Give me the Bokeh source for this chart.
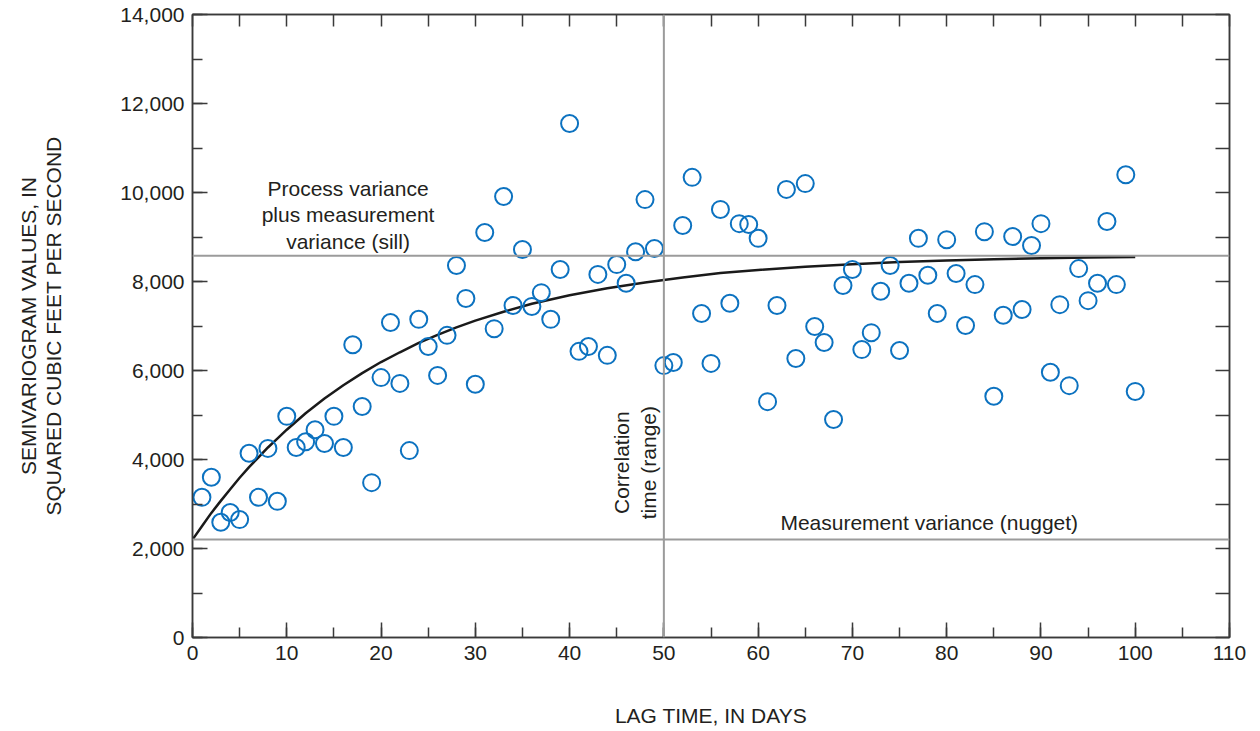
import numpy as np
from bokeh.plotting import figure
from bokeh.models import LinearAxis, Span, Range1d, FixedTicker, NumeralTickFormatter
from bokeh.core.properties import value
from bokeh.embed import file_html
from bokeh.resources import INLINE

# ---- data ----
lag_days = list(range(1, 101))
semivariogram = [
    3150, 3600, 2590, 2810, 2650, 4140, 3150, 4250, 3060, 4970,
    4270, 4400, 4670, 4360, 4970, 4270, 6580, 5190, 3480, 5840,
    7080, 5710, 4200, 7150, 6540, 5890, 6790, 8360, 7620, 5690,
    9100, 6940, 9910, 7460, 8720, 7440, 7750, 7150, 8270, 11550,
    6430, 6540, 8160, 6340, 8380, 7960, 8670, 9840, 8740, 6110,
    6180, 9260, 10340, 7280, 6160, 9620, 7510, 9300, 9280, 8970,
    5300, 7460, 10070, 6270, 10200, 6990, 6630, 4900, 7910, 8270,
    6470, 6850, 7780, 8360, 6450, 7960, 8970, 8140, 7280, 8940,
    8180, 7010, 7930, 9120, 5420, 7240, 9010, 7370, 8810, 9300,
    5960, 7480, 5660, 8290, 7570, 7960, 9350, 7930, 10400, 5530,
]
# fitted model curve, read at selected lags
curve_lag = [0, 1, 2, 3, 4, 5, 6, 7, 8, 9, 10, 12, 14, 16, 18, 20, 22, 24, 26, 28,
             30, 33, 36, 40, 44, 48, 52, 56, 60, 65, 70, 75, 80, 85, 90, 95, 100]
curve_val = [2200, 2500, 2800, 3070, 3330, 3590, 3830, 4050, 4270, 4470, 4670,
             5040, 5370, 5670, 5940, 6190, 6410, 6620, 6800, 6970,
             7120, 7320, 7500, 7690, 7850, 7980, 8090, 8190, 8260, 8330,
             8390, 8440, 8470, 8500, 8520, 8540, 8550]
sill_value = 8580
nugget_value = 2200
range_lag = 50

x_ticks = [0, 10, 20, 30, 40, 50, 60, 70, 80, 90, 100, 110]
y_ticks = [0, 2000, 4000, 6000, 8000, 10000, 12000, 14000]
x_minor = list(range(0, 111, 5))
y_minor = list(range(0, 14001, 1000))

FONT = "Liberation Sans"
TXT = "#231f20"
AX = "#3a3a3a"
FS = "21px"

p = figure(width=1260, height=731, output_backend="svg", toolbar_location=None,
           x_range=Range1d(0, 110), y_range=Range1d(0, 14000),
           x_axis_location=None, y_axis_location=None,
           min_border_left=192, min_border_right=31, min_border_top=14, min_border_bottom=94)
p.grid.visible = False
p.outline_line_color = AX
p.outline_line_width = 1.5
p.background_fill_color = "white"
p.border_fill_color = "white"

def make_axis(ticks, minors):
    ax = LinearAxis(ticker=FixedTicker(ticks=ticks, minor_ticks=minors))
    ax.axis_line_color = AX
    ax.axis_line_width = 1.5
    ax.major_tick_line_color = AX
    ax.minor_tick_line_color = AX
    ax.major_tick_line_width = 1.5
    ax.minor_tick_line_width = 1.5
    ax.major_tick_out = 0
    ax.minor_tick_out = 0
    ax.major_label_text_font = FONT
    ax.major_label_text_color = TXT
    ax.major_label_text_font_size = FS
    ax.axis_label_text_font = FONT
    ax.axis_label_text_color = TXT
    ax.axis_label_text_font_size = FS
    ax.axis_label_text_font_style = "normal"
    return ax

bottom = make_axis(x_ticks, x_minor)
bottom.major_tick_in = 15
bottom.minor_tick_in = 10
bottom.major_label_standoff = 8
bottom.axis_label = "LAG TIME, IN DAYS"
bottom.axis_label_standoff = 41
p.add_layout(bottom, "below")

left = make_axis(y_ticks, y_minor)
left.major_tick_in = 15
left.minor_tick_in = 10
left.major_label_standoff = 8
left.formatter = NumeralTickFormatter(format="0,0")
left.axis_label = "SQUARED CUBIC FEET PER SECOND"
left.axis_label_standoff = 52
p.add_layout(left, "left")

# outer line of the y-axis title (no ticks, no line)
left2 = make_axis([], [])
left2.axis_line_color = None
left2.major_label_standoff = 0
left2.axis_label = "SEMIVARIOGRAM VALUES, IN"
left2.axis_label_standoff = 0
p.add_layout(left2, "left")

# top and right frame edges carry only (equal-length) inward ticks, no labels
top = make_axis([], x_minor)
top.minor_tick_in = 12
p.add_layout(top, "above")

right = make_axis([], y_minor)
right.minor_tick_in = 14
p.add_layout(right, "right")

GRAY = "#9b9b9b"
p.add_layout(Span(location=sill_value, dimension="width", line_color=GRAY, line_width=2))
p.add_layout(Span(location=nugget_value, dimension="width", line_color=GRAY, line_width=2))
p.add_layout(Span(location=range_lag, dimension="height", line_color=GRAY, line_width=2))

p.line(curve_lag, curve_val, line_color="#1a1a1a", line_width=2.5)

p.scatter(lag_days, semivariogram, marker="circle", size=17, fill_color=None,
          line_color="#0c72c0", line_width=2)

p.text(x=[16.5], y=[9500], text=["Process variance\nplus measurement\nvariance (sill)"],
       text_font=value(FONT), text_font_size=FS, text_color=TXT,
       text_align="center", text_baseline="middle", text_line_height=1.15)
p.text(x=[46.95], y=[3930], text=["Correlation\ntime (range)"], angle=np.pi / 2,
       text_font=value(FONT), text_font_size=FS, text_color=TXT,
       text_align="center", text_baseline="middle", text_line_height=1.2)
p.text(x=[78.15], y=[2580], text=["Measurement variance (nugget)"],
       text_font=value(FONT), text_font_size=FS, text_color=TXT,
       text_align="center", text_baseline="middle")

open("out.html", "w").write(file_html(p, INLINE))
